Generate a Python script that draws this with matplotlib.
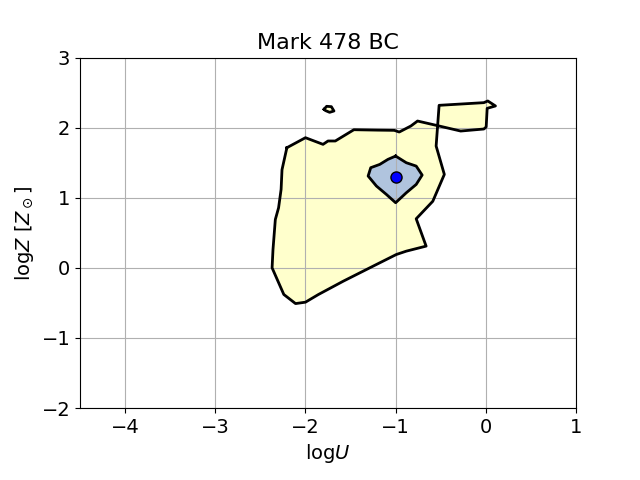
import numpy as np
from matplotlib import pyplot as plt

# outer contour (logU, logZ)
outer_u = [-2.206, -2.0, -1.805, -1.75, -1.669, -1.463, -1.2, -1.015, -0.96, -0.831,
           -0.757, -0.518, -0.279, -0.022, 0.004, 0.015, 0.107, 0.022, -0.022, -0.518,
           -0.551, -0.46, -0.588, -0.772, -0.662, -0.882, -0.993, -1.213, -1.324, -1.58,
           -1.857, -2.0, -2.11, -2.24, -2.37, -2.36, -2.334, -2.298, -2.27, -2.26]
outer_z = [1.714, 1.857, 1.762, 1.81, 1.81, 1.971, 1.965, 1.962, 1.938, 2.024,
           2.095, 2.024, 1.952, 1.981, 2.01, 2.276, 2.31, 2.381, 2.357, 2.319,
           1.738, 1.333, 0.95, 0.7, 0.31, 0.238, 0.19, 0.048, -0.024, -0.19,
           -0.381, -0.49, -0.51, -0.38, 0.0, 0.26, 0.69, 0.857, 1.12, 1.40]

# small island
island_u = [-1.794, -1.765, -1.713, -1.684, -1.732, -1.776]
island_z = [2.262, 2.305, 2.300, 2.238, 2.219, 2.243]

# inner contour
inner_u = [-1.0, -0.882, -0.772, -0.706, -0.772, -0.882, -1.0, -1.103, -1.213, -1.305,
           -1.276, -1.176, -1.085]
inner_z = [1.595, 1.5, 1.452, 1.324, 1.19, 1.071, 0.929, 1.048, 1.167, 1.31,
           1.429, 1.476, 1.548]

best_u = -1.0
best_z = 1.3


def draw_region(ax, u, z, color):
    u = list(u) + [u[0]]
    z = list(z) + [z[0]]
    ax.fill(u, z, color=color, zorder=1)
    ax.plot(u, z, color="k", lw=2, zorder=2)


def main():
    fig, ax = plt.subplots(figsize=(6.4, 4.8), dpi=100)
    fig.subplots_adjust(bottom=0.15)

    draw_region(ax, outer_u, outer_z, "#ffffcc")
    draw_region(ax, island_u, island_z, "#ffffcc")
    draw_region(ax, inner_u, inner_z, "#b0c4de")
    ax.plot(best_u, best_z, "o", color="b", mec="k", ms=8, zorder=3)

    ax.set_xlim(-4.5, 1)
    ax.set_ylim(-2, 3)
    ax.set_xticks(np.arange(-4, 2, 1))
    ax.set_yticks(np.arange(-2, 4, 1))
    ax.grid(True)
    ax.tick_params(labelsize=14)
    ax.set_xlabel(r"log$U$", fontsize=14)
    ax.set_ylabel(r"log$Z$ [$Z_\odot$]", fontsize=14)
    ax.set_title("Mark 478 BC", fontsize=16)

    fig.savefig("out.png")


if __name__ == "__main__":
    main()
